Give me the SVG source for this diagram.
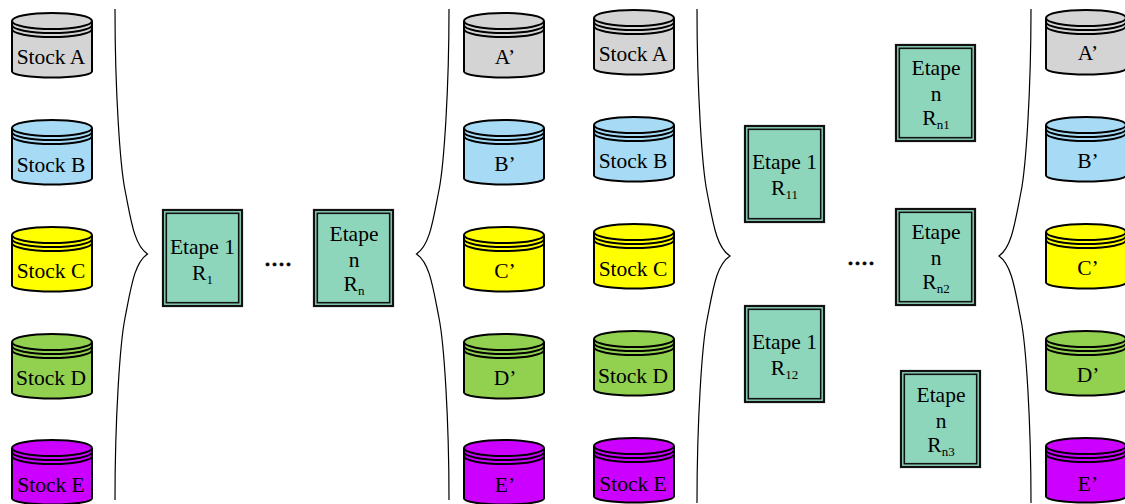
<svg xmlns="http://www.w3.org/2000/svg" width="1125" height="504" viewBox="0 0 1125 504">
<style>
text{font-family:"Liberation Serif","Times New Roman",serif;font-size:21.500px;fill:#000;text-anchor:middle}
.sub{font-size:13px}
.dots{font-size:28px;stroke:#000;stroke-width:.5}
#cy path{stroke:#000;stroke-width:2}
.brace{fill:none;stroke:#000;stroke-width:1.2}
.o{fill:#8dd6bc;stroke:#111;stroke-width:2.2}
.i{fill:none;stroke:#111;stroke-width:1.6}
.a{fill:#d4d4d4}.b{fill:#a6daf5}.c{fill:#ffff00}.d{fill:#92d050}.e{fill:#cc00ff}
</style>
<defs>
<g id="cy">
<path d="M0 9V59.500A40 6 0 0 0 80 59.500V9A40 8 0 0 0 0 9Z"/>
<path fill="none" d="M0 9A40 8 0 0 0 80 9M0 13A40 8 0 0 0 80 13M0 17A40 8 0 0 0 80 17"/>
</g>
<g id="bx">
<rect class="o" x="0" y="0" width="79" height="96"/>
<rect class="i" x="3.300" y="3.300" width="72.400" height="89.400"/>
</g>
</defs>
<g id="connectors">
<path class="brace" d="M115 9C115 90 120 165 125 190C131 220 134 245 147.500 254C134 263 131 288 125 318C120 343 115 418 115 500"/>
<path class="brace" d="M449 9C449 90 444 165 439 190C433 220 430 245 416.500 254C430 263 433 288 439 318C444 343 449 418 449 500"/>
<path class="brace" d="M697 9C697 90 702 167 707 192C713 222 716 247 730 256C716 265 713 290 707 320C702 345 697 420 697 503"/>
<path class="brace" d="M1031 9C1031 90 1026 167 1021 192C1015 222 1012 247 999 256C1012 265 1015 290 1021 320C1026 345 1031 420 1031 503"/>
</g>
<g id="stock-a" transform="translate(12 12)"><use href="#cy" class="a"/><text x="39" y="52">Stock A</text></g>
<g id="stock-b" transform="translate(12 119)"><use href="#cy" class="b"/><text x="39" y="53">Stock B</text></g>
<g id="stock-c" transform="translate(12 226)"><use href="#cy" class="c"/><text x="39" y="52">Stock C</text></g>
<g id="stock-d" transform="translate(12 333)"><use href="#cy" class="d"/><text x="39" y="52">Stock D</text></g>
<g id="stock-e" transform="translate(12 439)"><use href="#cy" class="e"/><text x="39" y="53">Stock E</text></g>
<g id="a1" transform="translate(464 12)"><use href="#cy" class="a"/><text x="41" y="52">A’</text></g>
<g id="b1" transform="translate(464 119)"><use href="#cy" class="b"/><text x="41" y="52">B’</text></g>
<g id="c1" transform="translate(464 226)"><use href="#cy" class="c"/><text x="41" y="52">C’</text></g>
<g id="d1" transform="translate(464 333)"><use href="#cy" class="d"/><text x="41" y="52">D’</text></g>
<g id="e1" transform="translate(464 439)"><use href="#cy" class="e"/><text x="41" y="53">E’</text></g>
<g id="stock-a2" transform="translate(594 9)"><use href="#cy" class="a"/><text x="39" y="52">Stock A</text></g>
<g id="stock-b2" transform="translate(594 116)"><use href="#cy" class="b"/><text x="39" y="52">Stock B</text></g>
<g id="stock-c2" transform="translate(594 223)"><use href="#cy" class="c"/><text x="39" y="53">Stock C</text></g>
<g id="stock-d2" transform="translate(594 330)"><use href="#cy" class="d"/><text x="39" y="53">Stock D</text></g>
<g id="stock-e2" transform="translate(594 437)"><use href="#cy" class="e"/><text x="39" y="54">Stock E</text></g>
<g id="a2" transform="translate(1046 9)"><use href="#cy" class="a"/><text x="42" y="51">A’</text></g>
<g id="b2" transform="translate(1046 116)"><use href="#cy" class="b"/><text x="42" y="52">B’</text></g>
<g id="c2" transform="translate(1046 223)"><use href="#cy" class="c"/><text x="42" y="52">C’</text></g>
<g id="d2" transform="translate(1046 330)"><use href="#cy" class="d"/><text x="42" y="52">D’</text></g>
<g id="e2" transform="translate(1046 437)"><use href="#cy" class="e"/><text x="42" y="54">E’</text></g>
<g id="etape-r1" transform="translate(163 210)"><use href="#bx"/><text x="39.500" y="44">Etape 1</text><text x="39.500" y="70">R<tspan class="sub" dy="4">1</tspan></text></g>
<g id="etape-rn" transform="translate(314 210)"><use href="#bx"/><text x="40" y="31">Etape</text><text x="40" y="57">n</text><text x="40" y="81">R<tspan class="sub" dy="4">n</tspan></text></g>
<g id="etape-r11" transform="translate(745 126)"><use href="#bx"/><text x="39.500" y="43">Etape 1</text><text x="39.500" y="69">R<tspan class="sub" dy="4">11</tspan></text></g>
<g id="etape-r12" transform="translate(745 306)"><use href="#bx"/><text x="39.500" y="43">Etape 1</text><text x="39.500" y="69">R<tspan class="sub" dy="4">12</tspan></text></g>
<g id="etape-rn1" transform="translate(896 45)"><use href="#bx"/><text x="40" y="30">Etape</text><text x="40" y="56">n</text><text x="40" y="80">R<tspan class="sub" dy="4">n1</tspan></text></g>
<g id="etape-rn2" transform="translate(896 209)"><use href="#bx"/><text x="40" y="30">Etape</text><text x="40" y="56">n</text><text x="40" y="80">R<tspan class="sub" dy="4">n2</tspan></text></g>
<g id="etape-rn3" transform="translate(901 371)"><use href="#bx"/><text x="40" y="31">Etape</text><text x="40" y="57">n</text><text x="40" y="81">R<tspan class="sub" dy="4">n3</tspan></text></g>
<text class="dots" x="278" y="266">....</text>
<text class="dots" x="861" y="265">....</text>
</svg>
